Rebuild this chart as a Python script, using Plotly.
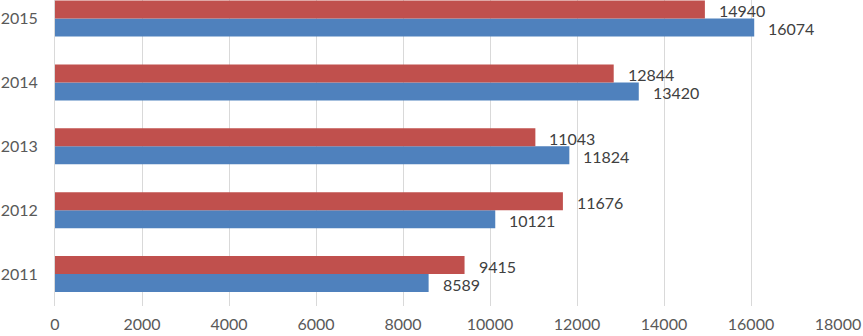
import plotly.graph_objects as go

years = ["2011", "2012", "2013", "2014", "2015"]
blue_values = [8589, 10121, 11824, 13420, 16074]
red_values = [9415, 11676, 11043, 12844, 14940]
x_ticks = [0, 2000, 4000, 6000, 8000, 10000, 12000, 14000, 16000, 18000]
x_tick_labels = [str(v) for v in x_ticks]

BLUE = "#4F81BD"
RED = "#C0504D"
FONT = "Lato"

fig = go.Figure()
fig.add_trace(go.Bar(y=years, x=blue_values, orientation="h", marker_color=BLUE,
                     marker_line_width=0, name="blue"))
fig.add_trace(go.Bar(y=years, x=red_values, orientation="h", marker_color=RED,
                     marker_line_width=0, name="red"))

half = (1 - 0.4375) / 4
for i, (b, r) in enumerate(zip(blue_values, red_values)):
    fig.add_annotation(x=b, y=i - half, text=str(b), showarrow=False, xanchor="left",
                       xshift=12, yshift=-1, font=dict(family=FONT, size=16, color="#404040"))
    fig.add_annotation(x=r, y=i + half, text=str(r), showarrow=False, xanchor="left",
                       xshift=12, yshift=-1, font=dict(family=FONT, size=16, color="#404040"))

fig.update_layout(
    width=863, height=336,
    margin=dict(l=55, r=25, t=0, b=30, autoexpand=False),
    barmode="group", bargap=0.4375, bargroupgap=0,
    plot_bgcolor="white", paper_bgcolor="white",
    showlegend=False,
    font=dict(family=FONT, size=16, color="#595959"),
)
fig.update_xaxes(range=[0, 18000], tickvals=x_ticks, ticktext=x_tick_labels,
                 showgrid=True, gridcolor="#D9D9D9", automargin=False,
                 gridwidth=1, zeroline=False, showline=False, ticklabelstandoff=7,
                 tickfont=dict(family=FONT, size=16, color="#595959"))
fig.update_yaxes(type="category", categoryorder="array", categoryarray=years,
                 range=[-0.5, 4.29], showgrid=False, showline=True, linecolor="#D9D9D9",
                 linewidth=1, zeroline=False, ticklabelstandoff=13, automargin=False,
                 tickfont=dict(family=FONT, size=16, color="#595959"))

fig.write_html("out.html", config={"displayModeBar": False},
               post_script="document.body.style.margin='0';")
